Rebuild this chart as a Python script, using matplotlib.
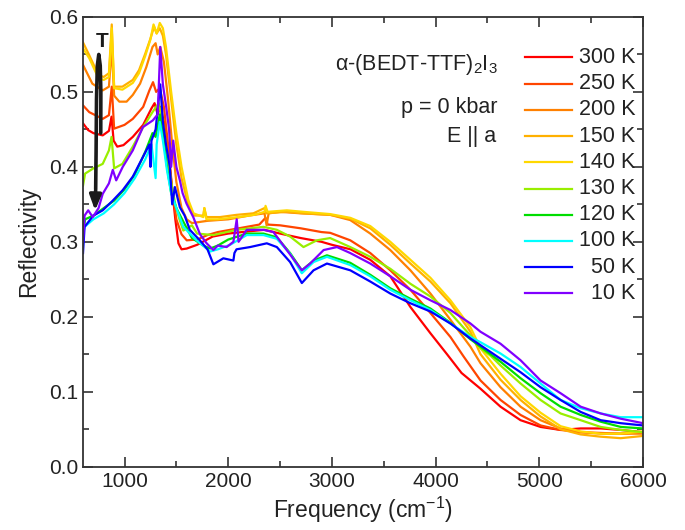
import matplotlib
matplotlib.use("Agg")
from matplotlib import pyplot as plt
from matplotlib.ticker import MultipleLocator

plt.rcParams["font.family"] = ["Liberation Sans", "DejaVu Sans"]
plt.rcParams["mathtext.fontset"] = "custom"
plt.rcParams["mathtext.rm"] = "Liberation Sans"

# spectra: frequency (cm-1) / reflectivity
freq_300 = [600, 650, 700, 790, 850, 875, 895, 930, 990, 1080, 1180, 1260, 1290, 1320, 1345, 1380, 1420,
            1460, 1490, 1520, 1550, 1600, 1700, 1850, 2000, 2200, 2350, 2500, 2700, 2900, 3000, 3180, 3370,
            3563, 3757, 3950, 4110, 4250, 4433, 4626, 4819, 5012, 5205, 5399, 5592, 5785, 6000]
refl_300 = [0.458, 0.449, 0.445, 0.442, 0.448, 0.467, 0.435, 0.427, 0.429, 0.440, 0.456, 0.478, 0.485, 0.470,
            0.480, 0.460, 0.420, 0.370, 0.330, 0.298, 0.290, 0.291, 0.296, 0.307, 0.311, 0.314, 0.316, 0.311,
            0.305, 0.300, 0.296, 0.290, 0.276, 0.254, 0.213, 0.178, 0.150, 0.125, 0.104, 0.080, 0.062, 0.053,
            0.049, 0.051, 0.051, 0.049, 0.046]

freq_250 = [600, 660, 790, 850, 877, 900, 1000, 1080, 1180, 1240, 1275, 1305, 1340, 1380, 1420, 1460, 1500,
            1550, 1600, 1700, 1800, 1900, 2100, 2300, 2360, 2380, 2500, 2700, 2900, 2983, 3177, 3370, 3563,
            3757, 3950, 4143, 4270, 4433, 4626, 4819, 5012, 5205, 5399, 5785, 6000]
refl_250 = [0.482, 0.473, 0.464, 0.469, 0.507, 0.451, 0.456, 0.464, 0.480, 0.502, 0.513, 0.500, 0.505, 0.480,
            0.430, 0.370, 0.330, 0.310, 0.302, 0.303, 0.309, 0.313, 0.318, 0.323, 0.332, 0.323, 0.322, 0.318,
            0.313, 0.312, 0.302, 0.285, 0.262, 0.236, 0.205, 0.173, 0.147, 0.115, 0.089, 0.069, 0.055, 0.049,
            0.046, 0.044, 0.046]

freq_200 = [600, 690, 790, 850, 877, 900, 950, 1020, 1080, 1150, 1210, 1270, 1300, 1320, 1345, 1380, 1420,
            1460, 1500, 1550, 1600, 1650, 1800, 2000, 2200, 2350, 2370, 2390, 2500, 2700, 2983, 3177, 3370,
            3563, 3757, 3950, 4143, 4336, 4433, 4626, 4819, 5012, 5205, 5399, 5592, 6000]
refl_200 = [0.536, 0.511, 0.502, 0.507, 0.560, 0.495, 0.487, 0.487, 0.496, 0.511, 0.533, 0.560, 0.565, 0.550,
            0.560, 0.540, 0.490, 0.430, 0.380, 0.345, 0.330, 0.325, 0.328, 0.330, 0.335, 0.338, 0.322, 0.338,
            0.340, 0.338, 0.336, 0.329, 0.311, 0.289, 0.262, 0.231, 0.196, 0.160, 0.138, 0.106, 0.080, 0.062,
            0.051, 0.046, 0.044, 0.044]

freq_150 = [600, 660, 750, 800, 850, 877, 900, 980, 1080, 1140, 1200, 1250, 1285, 1310, 1340, 1370, 1400,
            1450, 1500, 1550, 1615, 1665, 1760, 1770, 1790, 1921, 2082, 2243, 2350, 2365, 2565, 2726, 2983,
            3177, 3370, 3563, 3757, 3950, 4143, 4336, 4433, 4626, 4819, 5012, 5205, 5399, 5592, 5785, 6000]
refl_150 = [0.566, 0.549, 0.522, 0.520, 0.525, 0.590, 0.507, 0.507, 0.516, 0.529, 0.551, 0.571, 0.587, 0.578,
            0.585, 0.575, 0.550, 0.490, 0.430, 0.385, 0.350, 0.335, 0.335, 0.345, 0.333, 0.333, 0.336, 0.338,
            0.345, 0.338, 0.340, 0.338, 0.336, 0.331, 0.318, 0.296, 0.271, 0.247, 0.218, 0.180, 0.150, 0.116,
            0.089, 0.067, 0.050, 0.043, 0.040, 0.038, 0.041]

freq_140 = [600, 660, 750, 800, 850, 877, 900, 980, 1080, 1140, 1200, 1250, 1280, 1310, 1340, 1370, 1400,
            1450, 1500, 1550, 1615, 1665, 1760, 1770, 1790, 1900, 2100, 2250, 2350, 2360, 2380, 2565, 2726,
            2983, 3177, 3370, 3563, 3757, 3950, 4143, 4336, 4433, 4626, 4819, 5012, 5205, 5399, 5592, 5785,
            6000]
refl_140 = [0.558, 0.545, 0.518, 0.516, 0.520, 0.585, 0.505, 0.503, 0.512, 0.525, 0.548, 0.570, 0.590, 0.578,
            0.592, 0.585, 0.560, 0.500, 0.445, 0.400, 0.356, 0.338, 0.333, 0.345, 0.330, 0.330, 0.333, 0.336,
            0.340, 0.348, 0.340, 0.342, 0.340, 0.337, 0.332, 0.321, 0.300, 0.276, 0.252, 0.222, 0.186, 0.158,
            0.124, 0.094, 0.072, 0.054, 0.047, 0.044, 0.044, 0.047]

freq_130 = [600, 620, 700, 790, 850, 875, 900, 980, 1080, 1180, 1270, 1330, 1370, 1410, 1450, 1490, 1530,
            1567, 1650, 1700, 1857, 2082, 2340, 2469, 2597, 2726, 2855, 2983, 3177, 3370, 3563, 3757, 3950,
            4143, 4336, 4433, 4530, 4626, 4819, 5012, 5205, 5399, 5592, 5785, 6000]
refl_130 = [0.375, 0.391, 0.398, 0.404, 0.422, 0.440, 0.398, 0.404, 0.427, 0.453, 0.473, 0.485, 0.460, 0.420,
            0.380, 0.350, 0.330, 0.315, 0.322, 0.311, 0.309, 0.316, 0.320, 0.316, 0.307, 0.293, 0.302, 0.305,
            0.293, 0.280, 0.264, 0.244, 0.227, 0.205, 0.175, 0.158, 0.148, 0.135, 0.111, 0.089, 0.071, 0.062,
            0.053, 0.049, 0.046]

freq_120 = [600, 620, 700, 800, 900, 1000, 1100, 1200, 1270, 1300, 1340, 1370, 1410, 1450, 1500, 1567, 1650,
            1760, 1825, 1900, 2000, 2179, 2340, 2469, 2597, 2710, 2823, 2952, 3177, 3370, 3563, 3757, 3950,
            4143, 4336, 4433, 4626, 4819, 5012, 5205, 5399, 5592, 5785, 6000]
refl_120 = [0.310, 0.330, 0.335, 0.345, 0.355, 0.370, 0.390, 0.420, 0.445, 0.440, 0.470, 0.445, 0.400, 0.365,
            0.345, 0.327, 0.305, 0.295, 0.291, 0.295, 0.303, 0.311, 0.311, 0.306, 0.285, 0.262, 0.275, 0.282,
            0.272, 0.256, 0.238, 0.224, 0.211, 0.192, 0.170, 0.160, 0.140, 0.118, 0.098, 0.080, 0.069, 0.060,
            0.053, 0.051]

freq_100 = [600, 615, 700, 800, 900, 1000, 1100, 1200, 1260, 1300, 1310, 1340, 1370, 1410, 1450, 1500, 1567,
            1695, 1825, 1900, 2018, 2179, 2340, 2469, 2597, 2710, 2823, 2952, 3177, 3370, 3563, 3757, 3950,
            4143, 4336, 4433, 4626, 4819, 5012, 5205, 5399, 5592, 5785, 6000]
refl_100 = [0.310, 0.320, 0.330, 0.338, 0.350, 0.365, 0.385, 0.410, 0.430, 0.385, 0.430, 0.460, 0.435, 0.395,
            0.365, 0.345, 0.320, 0.302, 0.287, 0.290, 0.296, 0.309, 0.309, 0.304, 0.284, 0.258, 0.273, 0.280,
            0.269, 0.254, 0.236, 0.222, 0.209, 0.191, 0.173, 0.166, 0.151, 0.133, 0.111, 0.089, 0.078, 0.071,
            0.066, 0.066]

freq_50 = [600, 615, 700, 790, 887, 983, 1080, 1177, 1240, 1250, 1260, 1300, 1345, 1370, 1400, 1437, 1460,
           1486, 1534, 1580, 1630, 1727, 1800, 1857, 1953, 2050, 2060, 2080, 2211, 2372, 2469, 2597, 2710,
           2823, 2952, 3177, 3370, 3563, 3757, 3950, 4143, 4336, 4433, 4626, 4819, 5012, 5205, 5399, 5592,
           5785, 6000]
refl_50 = [0.285, 0.320, 0.335, 0.342, 0.355, 0.369, 0.387, 0.413, 0.430, 0.400, 0.435, 0.450, 0.510, 0.460,
           0.430, 0.400, 0.350, 0.373, 0.346, 0.335, 0.316, 0.302, 0.290, 0.270, 0.278, 0.275, 0.285, 0.290,
           0.293, 0.298, 0.293, 0.273, 0.245, 0.262, 0.271, 0.262, 0.247, 0.231, 0.218, 0.207, 0.191, 0.171,
           0.162, 0.144, 0.126, 0.106, 0.089, 0.073, 0.062, 0.058, 0.055]

freq_10 = [600, 615, 650, 694, 750, 790, 850, 887, 920, 983, 1080, 1177, 1273, 1320, 1345, 1370, 1402, 1430,
           1450, 1470, 1500, 1534, 1560, 1598, 1663, 1728, 1792, 1857, 1900, 1985, 2050, 2082, 2100, 2179,
           2340, 2436, 2565, 2710, 2790, 2920, 3049, 3177, 3370, 3563, 3757, 3950, 4143, 4336, 4433, 4626,
           4819, 5012, 5205, 5399, 5592, 5785, 6000]
refl_10 = [0.300, 0.335, 0.342, 0.333, 0.345, 0.364, 0.378, 0.396, 0.382, 0.400, 0.422, 0.453, 0.462, 0.470,
           0.560, 0.510, 0.480, 0.450, 0.400, 0.435, 0.400, 0.382, 0.365, 0.351, 0.333, 0.310, 0.298, 0.289,
           0.295, 0.293, 0.300, 0.330, 0.300, 0.316, 0.316, 0.313, 0.289, 0.262, 0.271, 0.289, 0.293, 0.285,
           0.271, 0.254, 0.236, 0.222, 0.209, 0.191, 0.180, 0.164, 0.142, 0.115, 0.098, 0.080, 0.071, 0.064,
           0.058]

labels = ["300 K", "250 K", "200 K", "150 K", "140 K", "130 K", "120 K", "100 K", "50 K", "10 K"]
colors = ["#FF0000", "#FF4500", "#FF8000", "#FFB000", "#FFD800", "#99EE00", "#00DD00", "#00FFFF",
          "#0000FF", "#8000FF"]
series = [(freq_300, refl_300), (freq_250, refl_250), (freq_200, refl_200), (freq_150, refl_150),
          (freq_140, refl_140), (freq_130, refl_130), (freq_120, refl_120), (freq_100, refl_100),
          (freq_50, refl_50), (freq_10, refl_10)]

fig = plt.figure(figsize=(6.85, 5.30), dpi=100)
ax = fig.add_axes([0.1212, 0.1195, 0.8175, 0.8485])

for (fr, rf), col in zip(series, colors):
    ax.plot(fr, rf, color=col, linewidth=1.6)

ax.set_xlim(600, 6000)
ax.set_ylim(0, 0.6)
ax.xaxis.set_major_locator(MultipleLocator(1000))
ax.xaxis.set_minor_locator(MultipleLocator(500))
ax.yaxis.set_major_locator(MultipleLocator(0.1))
ax.yaxis.set_minor_locator(MultipleLocator(0.05))
ax.yaxis.set_major_formatter(plt.FormatStrFormatter("%.1f"))
ax.tick_params(which="both", direction="in", top=True, right=True, labelsize=15, width=1.2,
               colors="#333333", labelcolor="#222222")
ax.tick_params(which="major", length=7)
ax.tick_params(which="minor", length=4.5)
for sp in ax.spines.values():
    sp.set_linewidth(1.3)
    sp.set_color("#333333")

ax.set_xlabel("Frequency (cm$^{-1}$)", fontsize=16.5, labelpad=3, color="#222222")
ax.set_ylabel("Reflectivity", fontsize=16.5, labelpad=6, color="#222222")

# annotations
ax.text(0.741, 0.882, "\u03b1-(BEDT-TTF)$_2$I$_3$", transform=ax.transAxes, ha="right",
        va="baseline", fontsize=15.5, color="#222222")
ax.text(0.741, 0.786, "p = 0 kbar", transform=ax.transAxes, ha="right", va="baseline",
        fontsize=15.5, color="#222222")
ax.text(0.737, 0.722, "E || a", transform=ax.transAxes, ha="right", va="baseline",
        fontsize=15.5, color="#222222")

# manual legend: short line + right aligned label
for i, (lab, col) in enumerate(zip(labels, colors)):
    yy = 0.91 - i * 0.0583
    ax.plot([0.789, 0.874], [yy, yy], color=col, linewidth=1.6, transform=ax.transAxes)
    ax.text(0.986, yy, lab, transform=ax.transAxes, ha="right", va="center", fontsize=15.5,
            color="#222222")

# temperature arrow
ax.plot([771, 772, 766, 752, 738, 730, 726, 722], [0.445, 0.50, 0.535, 0.55, 0.535, 0.49, 0.42, 0.37],
        color="#1a1a1a", linewidth=2.6, solid_capstyle="round")
ax.annotate("", xy=(716, 0.338), xytext=(722, 0.372),
            arrowprops=dict(arrowstyle="-|>,head_length=0.9,head_width=0.35", color="#1a1a1a", lw=2.6))
ax.text(785, 0.567, "T", fontsize=15, fontweight="bold", ha="center", va="center", color="#1a1a1a")

fig.savefig("out.png", dpi=100)
